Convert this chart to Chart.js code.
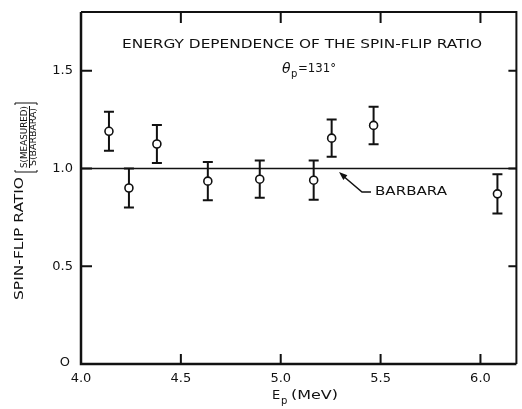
<!DOCTYPE html>
<html>
<head>
<meta charset="utf-8">
<script src="https://cdn.jsdelivr.net/npm/chart.js@4/dist/chart.umd.min.js"></script>
<style>
  html, body { margin: 0; padding: 0; background: #fff; }
  #wrap { width: 522px; height: 409px; }
</style>
</head>
<body>
<div id="wrap"><canvas id="c" width="522" height="409"></canvas></div>
<script>
// proton energy (MeV), measured spin-flip ratio and its error
const energies = [4.14, 4.24, 4.38, 4.635, 4.895, 5.165, 5.255, 5.465, 6.085];
const ratios   = [1.19, 0.90, 1.125, 0.935, 0.945, 0.94, 1.155, 1.22, 0.87];
const errors   = [0.10, 0.10, 0.097, 0.098, 0.095, 0.10, 0.095, 0.096, 0.10];

// BARBARA prediction, flat at unity
const refX = [4.0, 6.18];
const refY = [1.0, 1.0];

const xTicks = [4.0, 4.5, 5.0, 5.5, 6.0];
const xTickLabels = ['4.0', '4.5', '5.0', '5.5', '6.0'];
const yTicks = [0, 0.5, 1.0, 1.5];
const yTickLabels = ['O', '0.5', '1.0', '1.5'];

const FONT = '"DejaVu Sans", "Liberation Sans", sans-serif';

const points = energies.map((e, i) => ({ x: e, y: ratios[i] }));
const refLine = refX.map((x, i) => ({ x: x, y: refY[i] }));

// draw text squeezed/stretched to a given width
function textFit(ctx, str, x, y, width) {
  const w = ctx.measureText(str).width;
  const s = width / w;
  ctx.save();
  ctx.translate(x, y);
  ctx.scale(s, 1);
  ctx.fillText(str, 0, 0);
  ctx.restore();
}

const errorBars = {
  id: 'errorBars',
  beforeDatasetsDraw(chart) {
    const ctx = chart.ctx;
    const xs = chart.scales.x, ys = chart.scales.y;
    ctx.save();
    ctx.strokeStyle = '#111';
    ctx.lineWidth = 2;
    energies.forEach((e, i) => {
      const px = xs.getPixelForValue(e);
      const top = ys.getPixelForValue(ratios[i] + errors[i]);
      const bot = ys.getPixelForValue(ratios[i] - errors[i]);
      ctx.beginPath();
      ctx.moveTo(px, top); ctx.lineTo(px, bot);
      ctx.moveTo(px - 5, top); ctx.lineTo(px + 5, top);
      ctx.moveTo(px - 5, bot); ctx.lineTo(px + 5, bot);
      ctx.stroke();
    });
    ctx.restore();
  }
};

const frame = {
  id: 'frame',
  afterDraw(chart) {
    const ctx = chart.ctx;
    const a = chart.chartArea;
    const xs = chart.scales.x, ys = chart.scales.y;
    ctx.save();
    ctx.strokeStyle = '#111';
    ctx.fillStyle = '#111';

    // box: left, bottom, top, right
    ctx.lineWidth = 2.5;
    ctx.beginPath();
    ctx.moveTo(a.left, a.top); ctx.lineTo(a.left, a.bottom); ctx.lineTo(a.right, a.bottom);
    ctx.stroke();
    ctx.lineWidth = 2;
    ctx.beginPath();
    ctx.moveTo(a.left, a.top); ctx.lineTo(a.right, a.top); ctx.lineTo(a.right, a.bottom);
    ctx.stroke();

    // inward ticks
    ctx.lineWidth = 2;
    ctx.beginPath();
    xTicks.forEach(v => {
      const px = xs.getPixelForValue(v);
      if (v > xs.min) {
        ctx.moveTo(px, a.bottom); ctx.lineTo(px, a.bottom - 10);
        ctx.moveTo(px, a.top); ctx.lineTo(px, a.top + 11);
      }
    });
    yTicks.forEach(v => {
      const py = ys.getPixelForValue(v);
      if (v > ys.min) {
        ctx.moveTo(a.left, py); ctx.lineTo(a.left + 11, py);
        ctx.moveTo(a.right, py); ctx.lineTo(a.right - 8, py);
      }
    });
    ctx.stroke();

    // tick labels
    ctx.font = '13px ' + FONT;
    ctx.textAlign = 'center';
    ctx.textBaseline = 'top';
    xTicks.forEach((v, i) => {
      ctx.fillText(xTickLabels[i], xs.getPixelForValue(v), a.bottom + 8);
    });
    ctx.textAlign = 'right';
    ctx.textBaseline = 'middle';
    yTicks.forEach((v, i) => {
      const py = ys.getPixelForValue(v);
      ctx.fillText(yTickLabels[i], v === 0 ? a.left - 11 : a.left - 8, v === 0 ? py - 1 : py);
    });

    // title
    ctx.textAlign = 'left';
    ctx.font = '13px ' + FONT;
    textFit(ctx, 'ENERGY DEPENDENCE OF THE SPIN-FLIP RATIO', 122, 45, 360);
    ctx.font = 'italic 14px ' + FONT;
    ctx.fillText('\u03b8', 282, 69);
    ctx.font = '10px ' + FONT;
    ctx.fillText('p', 291, 74);
    ctx.font = '13px ' + FONT;
    textFit(ctx, '=131\u00b0', 298, 69, 38);

    // x axis title
    ctx.font = '13px ' + FONT;
    ctx.fillText('E', 272, 396);
    ctx.font = '10px ' + FONT;
    ctx.fillText('p', 281, 401);
    ctx.font = '13px ' + FONT;
    textFit(ctx, '(MeV)', 291, 396, 47);

    // y axis title, rotated
    ctx.save();
    ctx.translate(20, 300);
    ctx.rotate(-Math.PI / 2);
    ctx.textAlign = 'left';
    ctx.textBaseline = 'middle';
    ctx.font = '13px ' + FONT;
    textFit(ctx, 'SPIN-FLIP RATIO', 0, 0, 123);
    const bx = 128;
    ctx.font = '9px ' + FONT;
    const fw = 62;
    textFit(ctx, 'S(MEASURED)', bx + 4, 5, fw);
    textFit(ctx, 'S(BARBARA)', bx + 6, 14, fw - 4);
    ctx.lineWidth = 1;
    ctx.beginPath();
    ctx.moveTo(bx + 4, 9.5); ctx.lineTo(bx + 4 + fw, 9.5);
    // brackets
    ctx.moveTo(bx + 2, -5); ctx.lineTo(bx, -5); ctx.lineTo(bx, 17); ctx.lineTo(bx + 2, 17);
    const ex = bx + 7 + fw;
    ctx.moveTo(ex - 2, -5); ctx.lineTo(ex, -5); ctx.lineTo(ex, 17); ctx.lineTo(ex - 2, 17);
    ctx.stroke();
    ctx.restore();

    // BARBARA annotation with arrow
    const tipX = 339, tipY = 172;
    ctx.lineWidth = 1.5;
    ctx.beginPath();
    ctx.moveTo(tipX + 3, tipY + 3);
    ctx.lineTo(362, 192);
    ctx.lineTo(371, 192);
    ctx.stroke();
    const ang = Math.atan2(192 - tipY, 362 - tipX);
    ctx.beginPath();
    ctx.moveTo(tipX, tipY);
    ctx.lineTo(tipX + 9 * Math.cos(ang - 0.35), tipY + 9 * Math.sin(ang - 0.35));
    ctx.lineTo(tipX + 9 * Math.cos(ang + 0.35), tipY + 9 * Math.sin(ang + 0.35));
    ctx.closePath();
    ctx.fill();
    ctx.font = '13px ' + FONT;
    ctx.textAlign = 'left';
    ctx.textBaseline = 'middle';
    textFit(ctx, 'BARBARA', 375, 192, 72);

    ctx.restore();
  }
};

new Chart(document.getElementById('c'), {
  type: 'scatter',
  data: {
    datasets: [
      {
        type: 'line',
        data: refLine,
        borderColor: '#111',
        borderWidth: 1.5,
        pointRadius: 0,
        fill: false
      },
      {
        data: points,
        pointRadius: 4,
        pointBorderWidth: 1.6,
        pointBackgroundColor: '#fff',
        pointBorderColor: '#111'
      }
    ]
  },
  options: {
    responsive: false,
    animation: false,
    layout: { padding: { left: 81, right: 1, top: 12, bottom: 45 } },
    plugins: { legend: { display: false }, tooltip: { enabled: false } },
    scales: {
      x: { type: 'linear', min: 4.0, max: 6.18, display: false },
      y: { type: 'linear', min: 0, max: 1.8, display: false }
    }
  },
  plugins: [errorBars, frame]
});
</script>
</body>
</html>
